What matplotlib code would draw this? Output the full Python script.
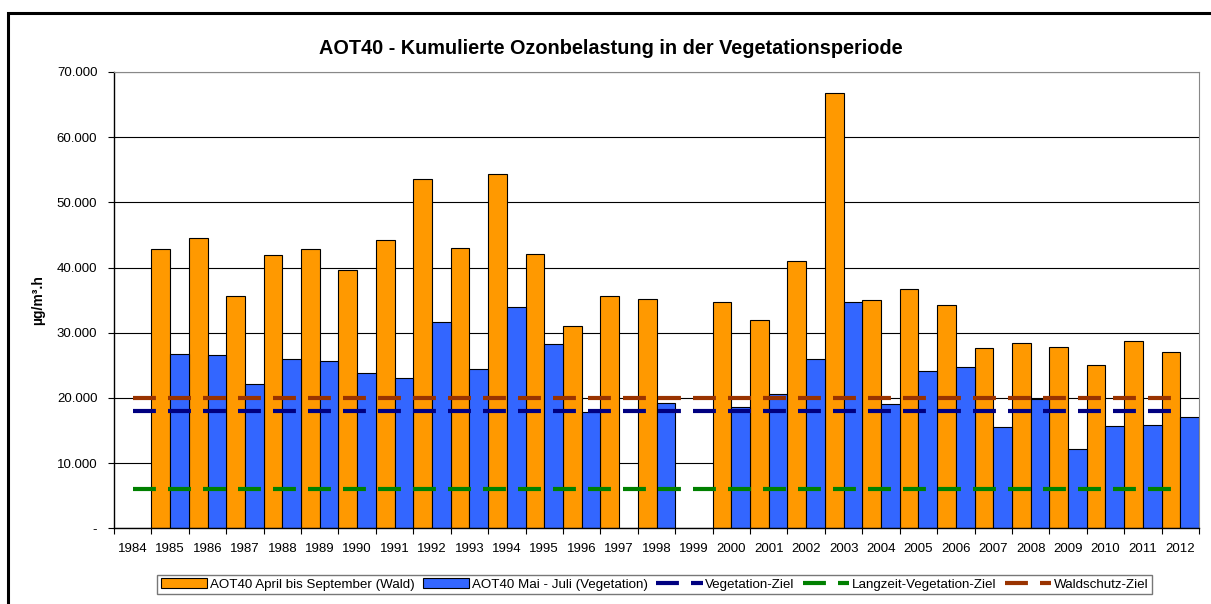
import numpy as np
import matplotlib
matplotlib.use('Agg')
import matplotlib.pyplot as plt
from matplotlib.ticker import FuncFormatter, MultipleLocator, FixedLocator
from matplotlib.patches import Rectangle

plt.rcParams['font.family'] = ['Liberation Sans', 'DejaVu Sans']
plt.rcParams['lines.scale_dashes'] = False

# Data (values in µg/m³.h)
years = list(range(1984, 2013))
wald = [np.nan, 42900, 44550, 35700, 41900, 42800, 39700, 44200, 53650, 43000,
        54300, 42100, 31100, 35700, 35200, np.nan, 34700, 31900, 41000, 66800,
        35000, 36700, 34300, 27600, 28500, 27750, 25000, 28800, 27100]
vegetation = [np.nan, 26700, 26600, 22200, 25900, 25700, 23900, 23000, 31700, 24400,
              34000, 28250, 17800, np.nan, 19150, np.nan, 18650, 20600, 25900, 34750,
              19050, 24100, 24700, 15500, 19800, 12150, 15700, 15800, 17000]
veg_ziel = 18000
langzeit_ziel = 6000
wald_ziel = 20000

x = np.arange(len(years))

fig = plt.figure(figsize=(12.11, 6.04), dpi=100)
ax = fig.add_axes([114 / 1211, 1 - 528.3 / 604, (1199 - 114) / 1211, (528.3 - 72) / 604])

b1 = ax.bar(x - 0.25, wald, width=0.5, color='#FF9900', edgecolor='black', linewidth=0.8,
            label='AOT40 April bis September (Wald)', zorder=2)
b2 = ax.bar(x + 0.25, vegetation, width=0.5, color='#3366FF', edgecolor='black', linewidth=0.8,
            label='AOT40 Mai - Juli (Vegetation)', zorder=2)

dash = (0, (16.5, 8.7))
l1, = ax.plot([x[0], x[-1]], [veg_ziel] * 2, color='#000080', lw=3, linestyle=dash,
              label='Vegetation-Ziel', zorder=3)
l2, = ax.plot([x[0], x[-1]], [langzeit_ziel] * 2, color='#008000', lw=3, linestyle=dash,
              label='Langzeit-Vegetation-Ziel', zorder=3)
l3, = ax.plot([x[0], x[-1]], [wald_ziel] * 2, color='#993300', lw=3, linestyle=dash,
              label='Waldschutz-Ziel', zorder=3)

ax.set_xlim(-0.5, len(years) - 0.5)
ax.set_ylim(0, 70000)
ax.yaxis.set_major_locator(MultipleLocator(10000))
ax.yaxis.set_major_formatter(FuncFormatter(
    lambda v, p: '-' if v == 0 else f'{int(v):,}'.replace(',', '.')))
ax.grid(axis='y', color='black', linewidth=0.8, zorder=0)

ax.set_xticks(x)
ax.set_xticklabels([str(y) for y in years])
ax.xaxis.set_minor_locator(FixedLocator(np.arange(-0.5, len(years), 1.0)))
ax.tick_params(axis='x', which='major', length=0, pad=10.5, labelsize=9.5)
ax.tick_params(axis='x', which='minor', length=4, width=0.8, direction='out')
ax.tick_params(axis='y', length=4, width=0.8, direction='out', pad=8, labelsize=9.5)

for side in ['top', 'right']:
    ax.spines[side].set_color('#888888')
for side in ['left', 'bottom']:
    ax.spines[side].set_color('black')
    ax.spines[side].set_linewidth(1.0)

ax.set_ylabel('µg/m³.h', fontsize=10, fontweight='bold', labelpad=8)
fig.text(611 / 1211, 1 - 48 / 604, 'AOT40 - Kumulierte Ozonbelastung in der Vegetationsperiode',
         ha='center', va='center', fontsize=14.3, fontweight='bold')

leg = fig.legend(handles=[b1, b2, l1, l2, l3], loc='center',
                 bbox_to_anchor=(654.5 / 1211, 19.5 / 604), ncol=5,
                 fontsize=9.6, frameon=True, fancybox=False, edgecolor='#555555',
                 handlelength=3.5, handletextpad=0.2, columnspacing=0.6,
                 borderpad=0.25, borderaxespad=0)
leg.get_frame().set_linewidth(1.0)

# outer chart frame (right and bottom edges lie outside the image)
fig.patches.append(Rectangle((7.5 / 1211, -0.05), 1.1, 1 - 12.7 / 604 + 0.05,
                             transform=fig.transFigure, fill=False,
                             edgecolor='black', linewidth=2.2))

fig.savefig('out.png', dpi=100)
